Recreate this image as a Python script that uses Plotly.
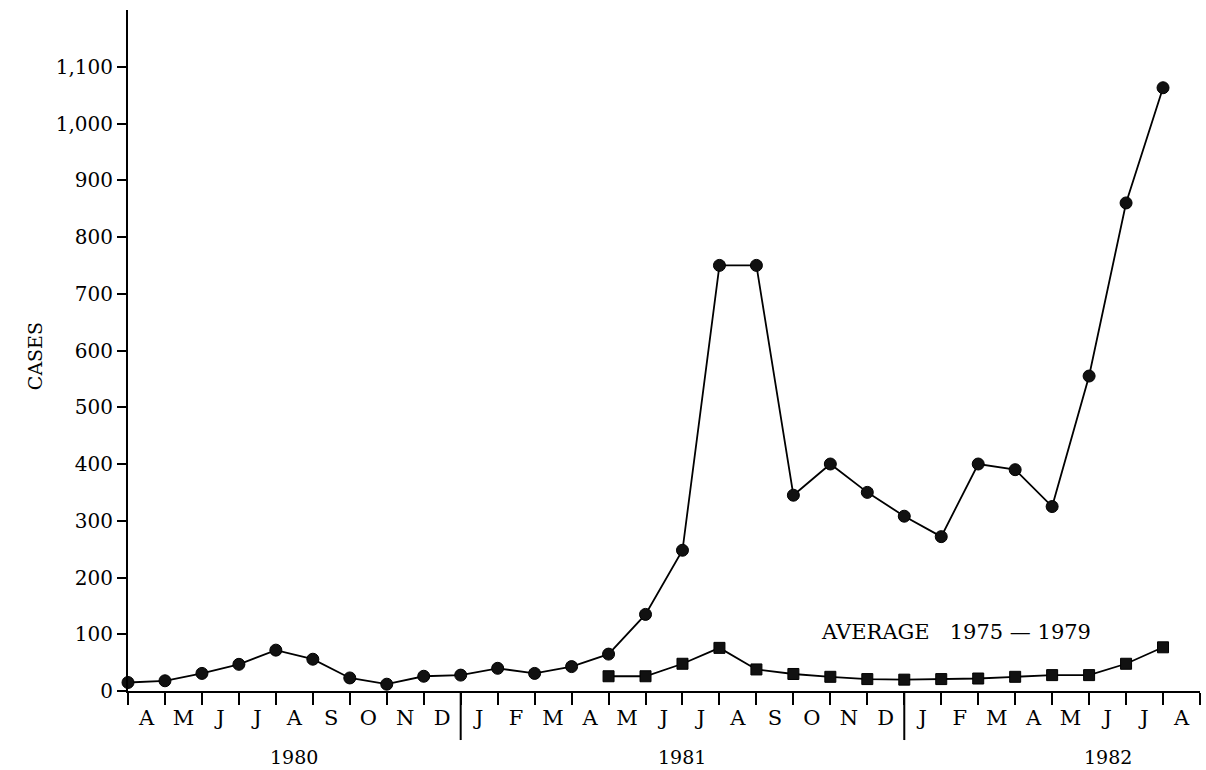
import plotly.graph_objects as go

# ---- data ----
month_labels = ["A", "M", "J", "J", "A", "S", "O", "N", "D",
                "J", "F", "M", "A", "M", "J", "J", "A", "S", "O", "N", "D",
                "J", "F", "M", "A", "M", "J", "J", "A"]
# reported cases, one value per month boundary tick (Apr 1980 ... Aug 1982)
cases = [15, 18, 31, 47, 72, 56, 23, 12, 26, 28, 40, 31, 43, 65, 135, 248,
         750, 750, 345, 400, 350, 308, 272, 400, 390, 325, 555, 860, 1063]
# average 1975-1979, starting at the May 1981 tick
avg_start = 13
average = [26, 26, 48, 76, 38, 30, 25, 21, 20, 21, 22, 25, 28, 28, 48, 77]
years = ["1980", "1981", "1982"]
year_centers = [4.5, 15, 26.5]
year_breaks = [9, 21]
y_ticks = list(range(0, 1200, 100))

FONT = "DejaVu Serif"

x_cases = list(range(len(cases)))
x_avg = list(range(avg_start, avg_start + len(average)))

fig = go.Figure()
fig.add_trace(go.Scatter(
    x=x_cases, y=cases, mode="lines+markers",
    line=dict(color="black", width=1.8),
    marker=dict(symbol="circle", size=12, color="#111111",
                line=dict(color="black", width=1)),
    cliponaxis=False, showlegend=False))
fig.add_trace(go.Scatter(
    x=x_avg, y=average, mode="lines+markers",
    line=dict(color="black", width=1.8),
    marker=dict(symbol="square", size=11, color="#111111",
                line=dict(color="black", width=1)),
    cliponaxis=False, showlegend=False))

fig.update_xaxes(
    range=[0, len(month_labels)],
    tickmode="array",
    tickvals=[i + 0.5 for i in range(len(month_labels))],
    ticktext=month_labels,
    ticks="",
    ticklabelstandoff=7,
    showline=True, linecolor="black", linewidth=2,
    showgrid=False, zeroline=False,
    tickfont=dict(family=FONT, size=21, color="black"),
    minor=dict(tickmode="array", tickvals=list(range(len(month_labels) + 1)),
               ticks="outside", ticklen=12, tickwidth=1.5, tickcolor="black",
               showgrid=False),
)
fig.update_yaxes(
    range=[0, 1200],
    tickmode="array",
    tickvals=y_ticks,
    ticktext=[f"{v:,}" for v in y_ticks],
    ticks="outside", ticklen=9, tickwidth=2, tickcolor="black",
    showline=True, linecolor="black", linewidth=2,
    showgrid=False, zeroline=False,
    tickfont=dict(family=FONT, size=20, color="black"),
)

shapes = []
for b in year_breaks:
    shapes.append(dict(type="line", xref="x", yref="paper",
                       x0=b, x1=b, y0=0, y1=-0.072,
                       line=dict(color="black", width=2)))

annotations = []
for yr, xc in zip(years, year_centers):
    annotations.append(dict(text=yr, x=xc, xref="x", y=-0.097, yref="paper",
                            showarrow=False, yanchor="middle",
                            font=dict(family=FONT, size=19, color="black")))
annotations.append(dict(text="CASES", x=-0.0989, xref="paper", y=590, yref="y",
                        textangle=-90, showarrow=False,
                        font=dict(family=FONT, size=19, color="black")))
annotations.append(dict(text="AVERAGE\u00a0\u00a0 1975\u00a0\u2014\u00a01979",
                        x=22.4, xref="x", y=104, yref="y", showarrow=False,
                        font=dict(family=FONT, size=21, color="black")))

fig.update_layout(
    width=1206, height=770,
    margin=dict(l=128, r=6, t=10, b=79),
    paper_bgcolor="white", plot_bgcolor="white",
    shapes=shapes, annotations=annotations,
    font=dict(family=FONT, color="black"),
)

fig.write_html("out.html")
